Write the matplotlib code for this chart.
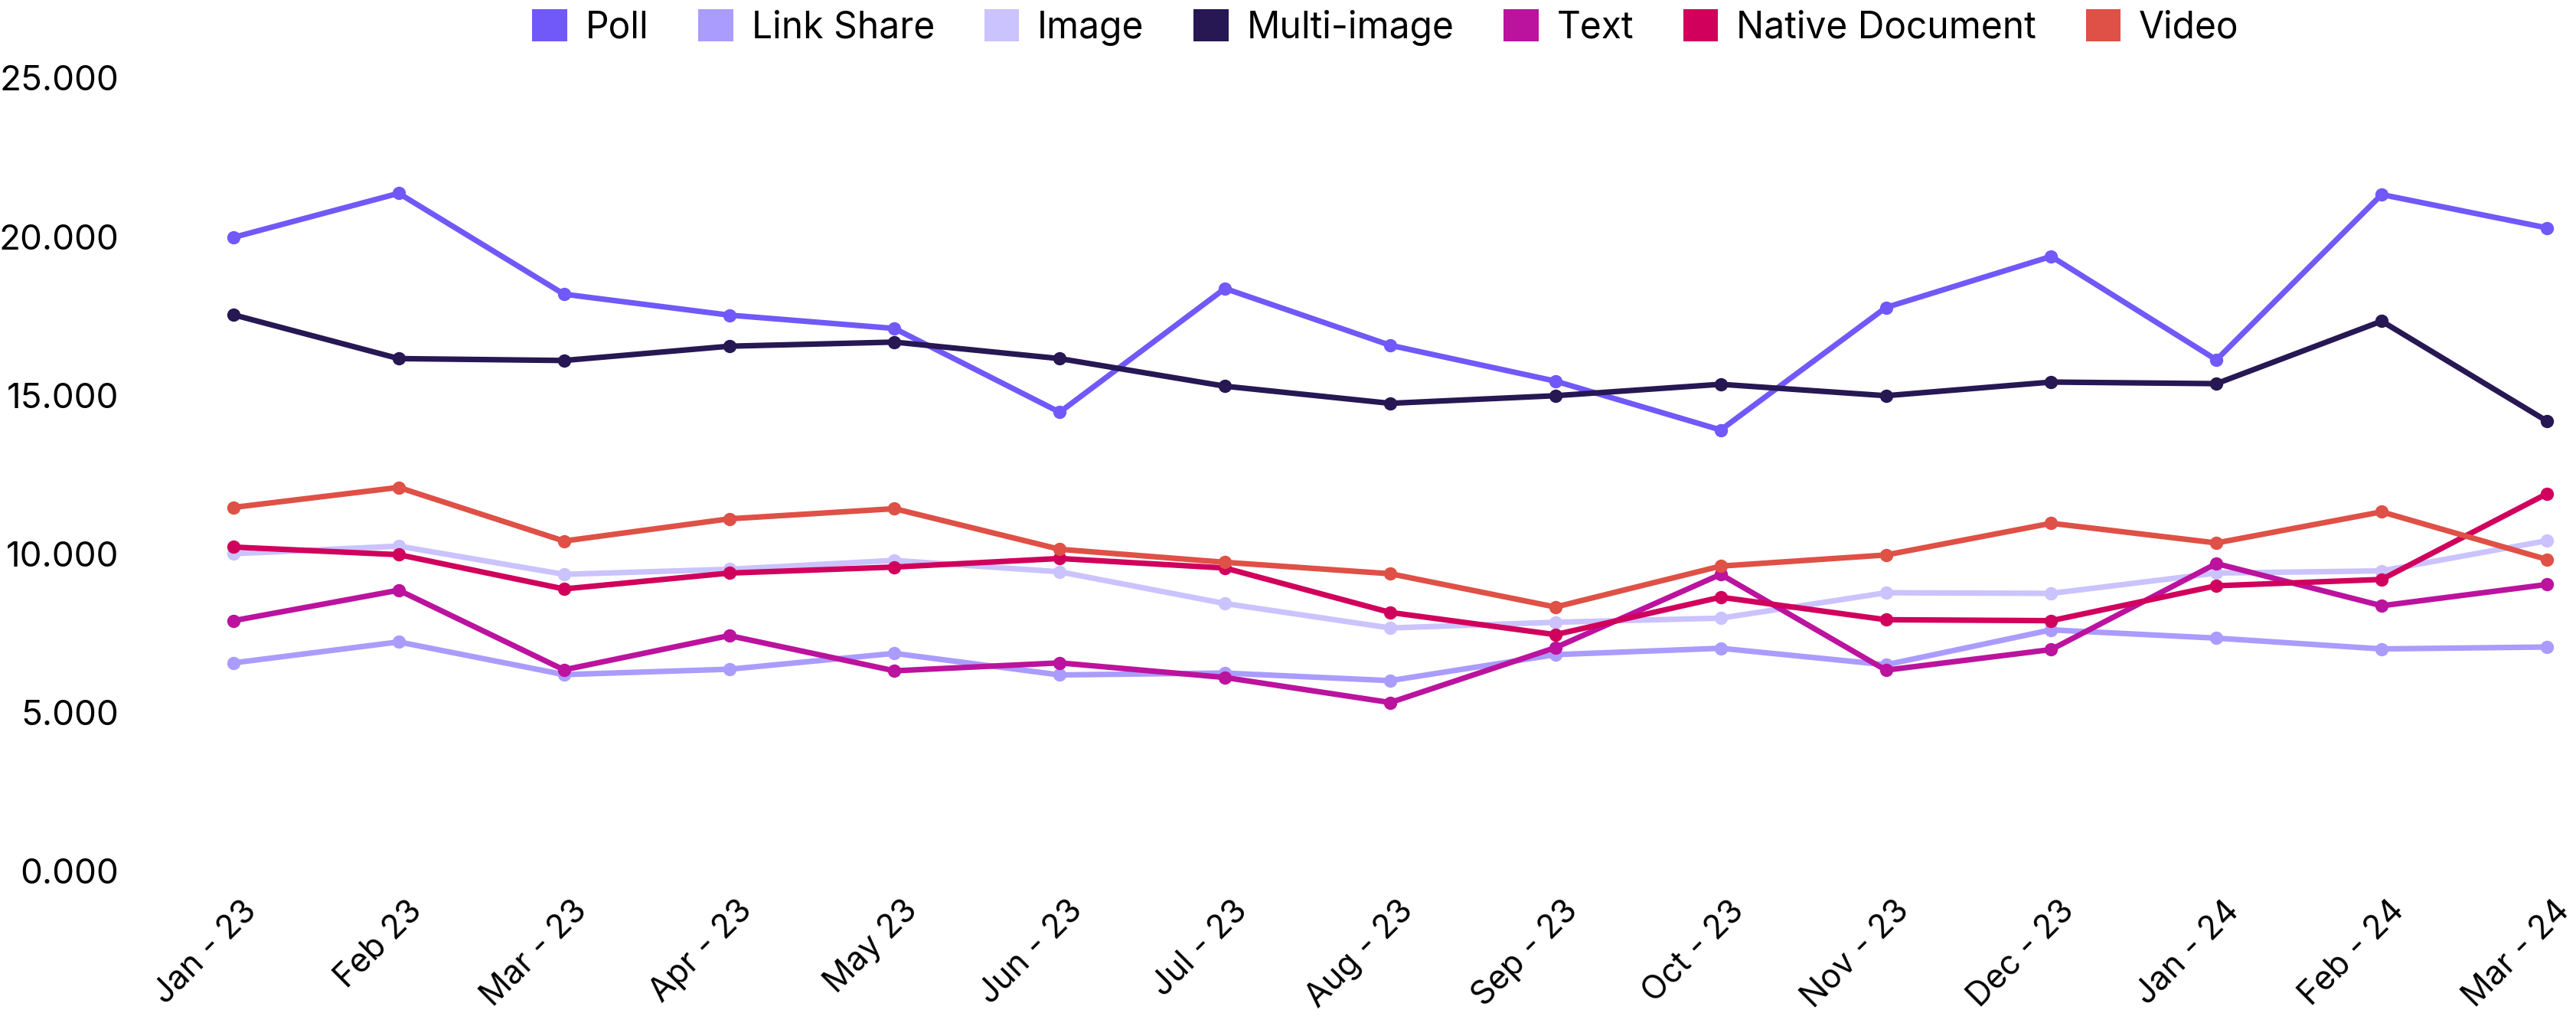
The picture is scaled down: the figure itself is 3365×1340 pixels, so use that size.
import matplotlib
matplotlib.use("Agg")
import matplotlib.pyplot as plt
import matplotlib.transforms as mtransforms
from matplotlib.patches import Patch

months = ["Jan - 23", "Feb 23", "Mar - 23", "Apr - 23", "May 23", "Jun - 23", "Jul - 23",
          "Aug - 23", "Sep - 23", "Oct - 23", "Nov - 23", "Dec - 23", "Jan - 24", "Feb - 24", "Mar - 24"]

poll = [19980, 21370, 18190, 17530, 17110, 14470, 18370, 16580, 15450, 13910, 17770, 19380, 16120, 21330, 20280]
link_share = [6570, 7230, 6200, 6370, 6870, 6190, 6250, 6010, 6830, 7030, 6510, 7610, 7350, 7010, 7070]
image = [10010, 10250, 9360, 9520, 9800, 9440, 8440, 7670, 7850, 7980, 8780, 8760, 9400, 9470, 10420]
multi_image = [17540, 16160, 16100, 16550, 16680, 16160, 15290, 14750, 14990, 15350, 14990, 15420, 15370, 17340, 14190]
text = [7900, 8860, 6350, 7430, 6320, 6570, 6110, 5320, 7050, 9360, 6340, 6990, 9700, 8370, 9040]
native_doc = [10220, 9980, 8900, 9400, 9590, 9860, 9560, 8160, 7460, 8640, 7930, 7900, 9000, 9200, 11900]
video = [11470, 12100, 10410, 11110, 11430, 10150, 9740, 9380, 8330, 9620, 9970, 10970, 10350, 11330, 9830]

series_names = ["Poll", "Link Share", "Image", "Multi-image", "Text", "Native Document", "Video"]
series_values = [poll, link_share, image, multi_image, text, native_doc, video]
colors = ["#7059F8", "#AA9CFD", "#CAC3FE", "#271753", "#BB139E", "#D0005C", "#DF5046"]

y_ticks = [0, 5000, 10000, 15000, 20000, 25000]
y_tick_labels = ["0.000", "5.000", "10.000", "15.000", "20.000", "25.000"]

plt.rcParams["font.family"] = ["Inter", "DejaVu Sans"]

W, H = 3365, 1340
fig = plt.figure(figsize=(W / 100, H / 100), dpi=100)

ax_left_px, ax_right_px = 180, 3345
ax_top_px, ax_bottom_px = 102, 1138
ax = fig.add_axes([ax_left_px / W, 1 - ax_bottom_px / H,
                   (ax_right_px - ax_left_px) / W, (ax_bottom_px - ax_top_px) / H])

x = list(range(len(months)))
for name, vals, c in zip(series_names, series_values, colors):
    ax.plot(x, vals, color=c, lw=5.2, marker="o", markersize=11.5,
            solid_joinstyle="round", solid_capstyle="round", clip_on=False)

first_px, last_px = 305, 3327
unit = (last_px - first_px) / (len(months) - 1)
ax.set_xlim(-(first_px - ax_left_px) / unit, (len(months) - 1) + (ax_right_px - last_px) / unit)
ax.set_ylim(0, 25000)

ax.set_yticks(y_ticks)
ax.set_yticklabels(y_tick_labels, fontsize=33)
ax.set_xticks(x)
ax.set_xticklabels(months, fontsize=31, rotation=45, ha="right", va="top", rotation_mode="anchor")
ax.tick_params(axis="both", length=0)
ax.tick_params(axis="x", pad=22)
ax.tick_params(axis="y", pad=18)
shift = mtransforms.ScaledTranslation(9 / 100, 0, fig.dpi_scale_trans)
for lbl in ax.get_xticklabels():
    lbl.set_transform(lbl.get_transform() + shift)
for s in ax.spines.values():
    s.set_visible(False)

handles = [Patch(facecolor=c, edgecolor="none") for c in colors]
fig.legend(handles, series_names, loc="center", ncol=7,
           bbox_to_anchor=(((first_px + last_px) / 2 - 6) / W, 1 - 36 / H),
           frameon=False, fontsize=34.5, handlelength=0.95, handleheight=0.95,
           handletextpad=0.5, columnspacing=1.35, borderaxespad=0, borderpad=0)

fig.savefig("out.png", dpi=100, facecolor="white")
